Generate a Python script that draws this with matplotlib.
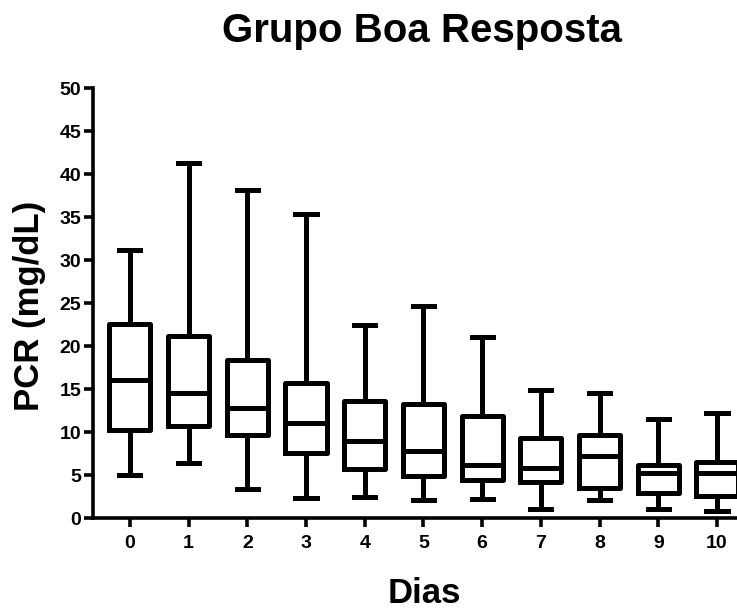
import matplotlib.pyplot as plt

plt.rcParams['font.family'] = ['Liberation Sans', 'DejaVu Sans']
plt.rcParams['font.weight'] = 'bold'

dias = [0, 1, 2, 3, 4, 5, 6, 7, 8, 9, 10]
whisk_lo = [5.0, 6.4, 3.4, 2.3, 2.4, 2.1, 2.2, 1.1, 2.1, 1.0, 0.85]
q1 = [10.2, 10.7, 9.6, 7.6, 5.7, 4.9, 4.4, 4.15, 3.5, 2.9, 2.6]
mediana = [16.0, 14.5, 12.8, 11.0, 8.9, 7.8, 6.2, 5.85, 7.2, 5.2, 5.2]
q3 = [22.6, 21.2, 18.4, 15.7, 13.6, 13.3, 11.9, 9.3, 9.65, 6.2, 6.5]
whisk_hi = [31.2, 41.3, 38.1, 35.4, 22.5, 24.6, 21.0, 14.9, 14.5, 11.5, 12.2]

stats = []
for i in range(len(dias)):
    stats.append(dict(whislo=whisk_lo[i], q1=q1[i], med=mediana[i],
                      q3=q3[i], whishi=whisk_hi[i], fliers=[]))

fig = plt.figure(figsize=(7.37, 6.09), dpi=100)
ax = fig.add_axes([0.126, 0.1494, 0.874, 0.706])

lw = 3.6
ax.bxp(stats, positions=dias, widths=0.7, showfliers=False,
       boxprops=dict(linewidth=lw, color='black'),
       medianprops=dict(linewidth=lw, color='black'),
       whiskerprops=dict(linewidth=lw, color='black'),
       capprops=dict(linewidth=lw, color='black'),
       capwidths=0.36)

ax.set_xlim(-0.63, 10.34)
ax.set_ylim(0, 50)
ax.set_yticks(range(0, 51, 5))
ax.set_xticks(dias)
ax.set_xticklabels([str(d) for d in dias])

for s in ['top', 'right']:
    ax.spines[s].set_visible(False)
for s in ['left', 'bottom']:
    ax.spines[s].set_linewidth(2.6)
ax.spines['left'].set_bounds(0, 50)
ax.tick_params(axis='both', width=2.6, length=6.5, labelsize=14, direction='out')
ax.tick_params(axis='x', pad=6)
ax.tick_params(axis='y', pad=2)
for lab in ax.get_xticklabels() + ax.get_yticklabels():
    lab.set_fontweight('bold')

# titulo e rotulos
fig.text(422 / 737, 1 - 42 / 609, 'Grupo Boa Resposta', fontsize=29,
         fontweight='bold', ha='center', va='baseline')
fig.text(30 / 737, 1 - 306 / 609, 'PCR (mg/dL)', fontsize=25,
         fontweight='bold', rotation=90, ha='center', va='center')
fig.text(424 / 737, 6 / 609, 'Dias', fontsize=25,
         fontweight='bold', ha='center', va='baseline')

fig.savefig('out.png', dpi=100)
